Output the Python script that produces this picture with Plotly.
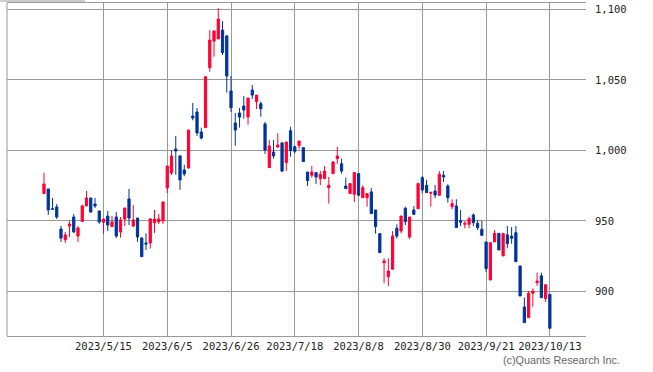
import pandas as pd
import plotly.graph_objects as go

# Trading days (Tokyo market) shown on the chart
holidays = ["2023-05-03", "2023-05-04", "2023-05-05", "2023-07-17",
            "2023-08-11", "2023-09-18", "2023-10-09"]
days = pd.bdate_range("2023-04-20", "2023-10-13", freq="C", holidays=holidays)
dates = [f"{d.year}/{d.month}/{d.day}" for d in days]

open_ = [969.3, 972.6, 958.6, 959.8, 944.2, 936.6, 946.3, 952.7, 939.2, 949.6,
         960.5, 966.2, 961.9, 957.0, 948.9, 953.4, 945.9, 952.7, 942.1, 951.3,
         965.5, 946.3, 952.0, 937.8, 934.3, 934.3, 948.5, 949.2, 949.9, 973.3,
         983.9, 1000.9, 996.0, 986.1, 987.5, 1024.3, 1027.2, 1013.0, 1016.1, 1058.6,
         1077.5, 1079.0, 1085.3, 1081.1, 1042.1, 1019.4, 1026.5, 1031.4, 1023.6, 1042.8,
         1034.5, 1033.1, 1018.7, 987.7, 998.8, 1002.4, 1005.2, 991.3, 1013.9, 1002.6,
         1003.3, 1001.9, 984.6, 982.3, 984.2, 979.9, 979.9, 973.5, 983.5, 994.1,
         990.5, 974.7, 969.3, 968.8, 983.5, 966.4, 966.4, 970.5, 957.7, 940.9,
         920.3, 910.4, 915.6, 944.7, 942.8, 958.9, 938.5, 957.7, 958.6, 980.6,
         975.2, 969.5, 971.2, 968.1, 982.3, 974.7, 960.0, 960.5, 950.1, 947.5,
         947.5, 954.1, 948.2, 944.0, 935.0, 908.0, 935.0, 941.1, 925.1, 940.0,
         939.2, 941.6, 918.0, 888.9, 881.3, 898.6, 906.1, 911.0, 894.8, 897.9]
high = [984.2, 972.6, 966.2, 961.9, 946.3, 942.1, 949.9, 954.8, 946.3, 961.5,
        971.2, 966.2, 966.2, 957.0, 951.3, 957.0, 953.4, 956.3, 952.7, 959.1,
        972.6, 961.2, 952.0, 938.5, 941.1, 952.0, 957.7, 954.8, 963.4, 988.9,
        1000.2, 1010.2, 996.7, 989.8, 1014.4, 1033.6, 1030.0, 1016.1, 1052.5, 1085.3,
        1085.3, 1100.9, 1091.7, 1081.8, 1052.7, 1026.5, 1030.0, 1038.5, 1037.1, 1046.3,
        1039.2, 1034.5, 1020.1, 1007.3, 1007.3, 1012.1, 1005.9, 1005.9, 1016.7, 1003.3,
        1006.6, 1001.9, 984.6, 988.9, 984.2, 985.3, 988.9, 981.1, 992.4, 1002.6,
        994.1, 980.6, 976.4, 984.6, 983.5, 975.2, 969.3, 973.3, 957.7, 940.9,
        923.4, 923.4, 942.8, 947.5, 953.4, 960.0, 952.7, 960.5, 977.1, 981.8,
        979.0, 970.2, 975.4, 985.3, 985.3, 975.9, 965.3, 965.3, 957.7, 949.9,
        953.0, 955.3, 950.6, 950.0, 935.0, 934.5, 943.5, 941.1, 941.1, 946.3,
        945.6, 946.3, 918.0, 895.5, 900.2, 902.1, 913.2, 913.2, 904.7, 897.9]
low = [969.3, 954.1, 957.7, 951.3, 935.0, 934.3, 938.5, 941.4, 935.0, 949.6,
       960.5, 955.6, 959.1, 947.8, 940.7, 942.8, 945.9, 937.8, 938.1, 946.3,
       947.0, 945.6, 935.0, 924.6, 929.3, 930.3, 941.4, 947.8, 947.8, 969.7,
       982.5, 982.7, 971.9, 981.6, 986.8, 1021.3, 1010.2, 1007.8, 1016.1, 1055.8,
       1066.4, 1079.0, 1067.6, 1040.9, 1027.2, 1003.3, 1016.1, 1022.5, 1018.2, 1036.4,
       1029.3, 1023.9, 997.4, 987.7, 994.1, 1001.7, 984.6, 985.3, 995.5, 998.0,
       1000.7, 992.0, 974.7, 980.6, 976.1, 975.4, 979.9, 962.2, 983.0, 990.5,
       983.5, 972.8, 969.3, 963.4, 968.1, 966.4, 960.0, 955.1, 940.9, 927.4,
       905.7, 903.8, 915.6, 937.4, 941.1, 947.0, 936.9, 954.6, 958.6, 969.5,
       970.0, 960.0, 966.0, 968.1, 977.5, 962.9, 958.2, 945.2, 946.3, 944.7,
       944.7, 946.1, 943.5, 939.2, 913.7, 908.0, 935.0, 929.3, 925.1, 930.5,
       933.8, 921.0, 896.7, 877.8, 881.3, 889.1, 903.8, 895.5, 892.4, 873.8]
close = [976.1, 957.7, 958.2, 952.7, 937.8, 940.0, 947.7, 942.1, 944.9, 960.5,
         966.2, 956.3, 960.5, 949.2, 951.3, 947.0, 949.2, 939.2, 950.6, 959.1,
         952.0, 950.6, 938.5, 924.6, 933.6, 951.3, 951.3, 951.3, 963.4, 988.9,
         996.0, 999.5, 979.0, 983.2, 1014.4, 1022.9, 1012.3, 1008.7, 1052.2, 1078.2,
         1084.6, 1093.1, 1069.3, 1052.7, 1030.3, 1014.4, 1023.6, 1028.6, 1037.1, 1039.2,
         1039.2, 1029.5, 1000.2, 1003.1, 996.0, 1003.8, 985.3, 1005.9, 999.8, 999.3,
         1006.6, 992.0, 978.5, 984.6, 981.1, 983.0, 985.3, 975.2, 991.7, 996.0,
         985.3, 972.8, 976.4, 984.2, 968.1, 973.5, 969.3, 955.1, 945.9, 927.4,
         921.5, 914.4, 939.2, 939.2, 953.4, 949.4, 952.7, 954.6, 976.4, 971.9,
         970.0, 970.2, 968.3, 983.0, 981.1, 966.4, 962.2, 945.2, 949.0, 948.2,
         951.5, 948.7, 945.2, 939.7, 916.1, 934.5, 941.1, 929.3, 941.1, 933.8,
         937.6, 921.0, 896.7, 877.8, 898.6, 900.2, 907.3, 895.5, 904.7, 873.8]

x_ticks = ["2023/5/15", "2023/6/5", "2023/6/26", "2023/7/18",
           "2023/8/8", "2023/8/30", "2023/9/21", "2023/10/13"]
y_ticks = [900, 950, 1000, 1050, 1100]
y_tick_text = ["900", "950", "1,000", "1,050", "1,100"]

UP = "#ff0033"
DOWN = "#003399"
GRID = "#999999"
tick_font = dict(family="DejaVu Sans Mono", size=10.5, color="#222222")

fig = go.Figure(go.Candlestick(
    x=dates, open=open_, high=high, low=low, close=close,
    increasing=dict(line=dict(color=UP, width=1), fillcolor=UP),
    decreasing=dict(line=dict(color=DOWN, width=1), fillcolor=DOWN),
    whiskerwidth=0, hoverinfo="skip", showlegend=False,
))

fig.update_layout(
    width=653, height=372,
    margin=dict(l=7, r=67, t=3, b=36),
    paper_bgcolor="white", plot_bgcolor="white",
    boxgap=0.25,
    xaxis=dict(
        type="category", range=[-8.7, 127.5],
        tickmode="array", tickvals=x_ticks, ticktext=x_ticks,
        showgrid=True, gridcolor=GRID, gridwidth=1,
        showline=True, linecolor=GRID, linewidth=1, mirror=True,
        ticks="", tickfont=tick_font, ticklabelstandoff=0,
        rangeslider=dict(visible=False), fixedrange=True,
    ),
    yaxis=dict(
        side="right", range=[868.3, 1104.5],
        tickmode="array", tickvals=y_ticks, ticktext=y_tick_text,
        showgrid=True, gridcolor=GRID, gridwidth=1,
        showline=False, zeroline=False,
        ticks="", tickfont=tick_font, ticklabelstandoff=8,
        fixedrange=True,
    ),
    shapes=[
        dict(type="line", xref="paper", yref="paper", x0=0, x1=0, y0=0, y1=1,
             line=dict(color=GRID, width=1)),
        dict(type="line", xref="paper", yref="paper", x0=-0.0121, x1=0.1347,
             y0=1.006, y1=1.006, line=dict(color=GRID, width=1)),
    ],
    annotations=[
        dict(text="(c)Quants Research Inc.", xref="paper", yref="paper",
             x=1.062, y=-0.072, xanchor="right", yanchor="middle",
             showarrow=False,
             font=dict(family="Liberation Sans", size=10.8, color="#666666")),
    ],
)

fig.write_html("out.html", config={"displayModeBar": False},
               post_script="document.body.style.margin='0';")
